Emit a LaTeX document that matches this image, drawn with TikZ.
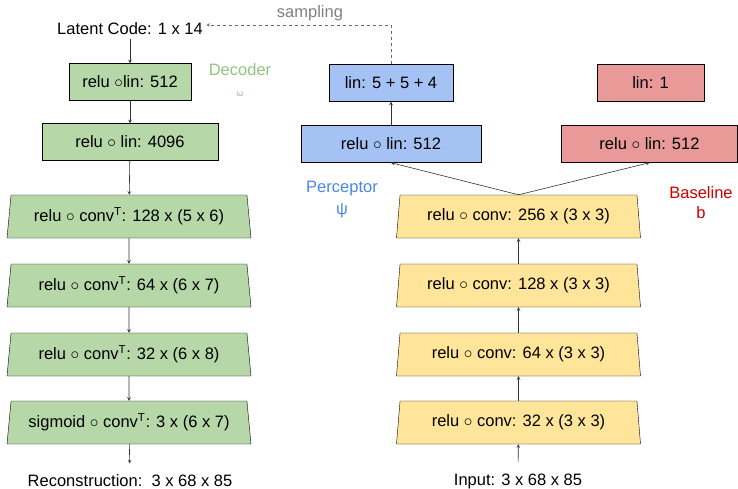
\documentclass[tikz,border=0pt]{standalone}
\usepackage{fontspec}
\setmainfont{Liberation Sans}
\usetikzlibrary{shapes.geometric}
\definecolor{decfill}{HTML}{B6D7A8}
\definecolor{perfill}{HTML}{A4C2F4}
\definecolor{basefill}{HTML}{EA9999}
\definecolor{encfill}{HTML}{FFE599}
\definecolor{dectext}{HTML}{93C47D}
\definecolor{pertext}{HTML}{4A86E8}
\definecolor{basetext}{HTML}{CC0000}
\tikzset{
  txt/.style={font=\fontsize{16.5}{18}\selectfont},
  lyr/.style={draw, rectangle, inner sep=0pt, minimum height=37pt, txt},
  convl/.style={draw, trapezium, trapezium left angle=77, trapezium right angle=77,
    trapezium stretches body, minimum width=244pt, minimum height=43pt, inner sep=0pt, txt},
  flow/.style={->, >=stealth, line width=0.6pt, black!80}
}

\begin{document}
\begin{tikzpicture}[x=1pt, y=-1pt]
\useasboundingbox (0,0) rectangle (738,489);
\node[txt] (latent) at (130,29) {Latent Code: 1 x 14};
\node[txt, black!50] (samp) at (310,13) {sampling};
\node[lyr, fill=decfill, minimum width=122pt] (dlin1) at (130,82) {relu $\circ$lin: 512};
\node[lyr, fill=decfill, minimum width=176pt] (dlin2) at (130,142) {relu $\circ$ lin: 4096};
\node[convl, fill=decfill] (dc1) at (129,216.5) {relu $\circ$ conv\textsuperscript{T}: 128 x (5 x 6)};
\node[convl, fill=decfill] (dc2) at (129,285.5) {relu $\circ$ conv\textsuperscript{T}: 64 x (6 x 7)};
\node[convl, fill=decfill] (dc3) at (129,354.5) {relu $\circ$ conv\textsuperscript{T}: 32 x (6 x 8)};
\node[convl, fill=decfill] (dc4) at (129,422.5) {sigmoid $\circ$ conv\textsuperscript{T}: 3 x (6 x 7)};
\node[txt] (recon) at (130,481) {Reconstruction:\ \ 3 x 68 x 85};
\node[txt, dectext] (dec) at (240,70) {Decoder};
\node[font=\fontsize{9}{10}\selectfont, dectext] (omega) at (240,94) {ω};

\node[convl, fill=encfill] (ec1) at (518.5,422.5) {relu $\circ$ conv: 32 x (3 x 3)};
\node[convl, fill=encfill] (ec2) at (518.5,354.5) {relu $\circ$ conv: 64 x (3 x 3)};
\node[convl, fill=encfill] (ec3) at (518.5,285.5) {relu $\circ$ conv: 128 x (3 x 3)};
\node[convl, fill=encfill] (ec4) at (518.5,216.5) {relu $\circ$ conv: 256 x (3 x 3)};
\node[txt] (input) at (518,481) {Input: 3 x 68 x 85};

\node[lyr, fill=perfill, minimum width=180pt] (plin1) at (391,144) {relu $\circ$ lin: 512};
\node[lyr, fill=perfill, minimum width=124pt] (plout) at (391,83) {lin: 5 + 5 + 4};
\node[txt, pertext] (per) at (342,189) {Perceptor};
\node[txt, pertext] (psi) at (342,211) {ψ};

\node[lyr, fill=basefill, minimum width=176pt] (blin1) at (649.5,144) {relu $\circ$ lin: 512};
\node[lyr, fill=basefill, minimum width=107pt] (blout) at (650.5,83) {lin: 1};
\node[txt, basetext] (base) at (701,193) {Baseline};
\node[txt, basetext] (bsym) at (701,213) {b};

\draw[flow] (latent) -- (dlin1);
\draw[flow] (dlin1) -- (dlin2);
\draw[flow] (dlin2) -- (dc1);
\draw[flow] (dc1) -- (dc2);
\draw[flow] (dc2) -- (dc3);
\draw[flow] (dc3) -- (dc4);
\draw[flow, shorten >=8pt] (dc4) -- (recon);
\draw[flow, shorten <=8pt] (input) -- (ec1);
\draw[flow] (ec1) -- (ec2);
\draw[flow] (ec2) -- (ec3);
\draw[flow] (ec3) -- (ec4);
\draw[flow] (ec4.north) -- (plin1.south);
\draw[flow] (ec4.north) -- (blin1.south);
\draw[flow] (plin1) -- (plout);
\draw[flow, dashed, black!60] (plout.north) |- ([yshift=4pt]latent.east);
\end{tikzpicture}
\end{document}
